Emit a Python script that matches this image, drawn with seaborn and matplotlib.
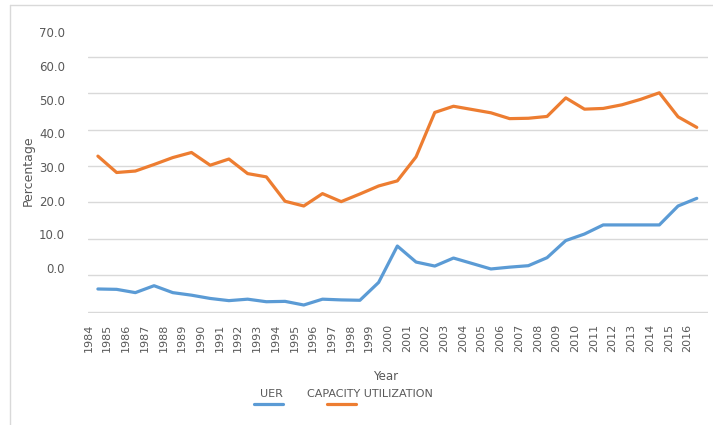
import pandas as pd
import matplotlib.pyplot as plt
import seaborn as sns
from matplotlib.lines import Line2D

# Data
years = list(range(1984, 2017))
uer = [-3.8, -3.9, -4.8, -2.9, -4.8, -5.5, -6.4, -7.0, -6.6, -7.3, -7.2,
       -8.2, -6.6, -6.8, -6.9, -2.0, 8.0, 3.6, 2.5, 4.7, 3.2, 1.7, 2.2,
       2.6, 4.8, 9.5, 11.3, 13.8, 13.8, 13.8, 13.8, 19.0, 21.1]
capacity = [32.7, 28.2, 28.6, 30.4, 32.3, 33.7, 30.2, 31.9, 27.9, 27.0, 20.3,
            19.0, 22.4, 20.2, 22.3, 24.5, 25.9, 32.5, 44.7, 46.4, 45.5, 44.6,
            43.0, 43.1, 43.6, 48.7, 45.6, 45.8, 46.8, 48.3, 50.1, 43.5, 40.6]
y_labels = ["0.0", "10.0", "20.0", "30.0", "40.0", "50.0", "60.0", "70.0"]
series_names = ["UER", "CAPACITY UTILIZATION"]
colors = ["#5B9BD5", "#ED7D31"]

df = pd.DataFrame({
    "idx": list(range(len(years))) * 2,
    "value": uer + capacity,
    "series": [series_names[0]] * len(years) + [series_names[1]] * len(years),
})

sns.set_style("white")
plt.rcParams["font.family"] = ["DejaVu Sans"]

fig = plt.figure(figsize=(7.13, 4.25), dpi=100)
ax = fig.add_axes([0.1234, 0.2635, 0.8696, 0.6715])

sns.lineplot(data=df, x="idx", y="value", hue="series", palette=colors,
             linewidth=2.3, legend=False, ax=ax)

# gridlines (offset from labels, as in the original image)
ax.set_ylim(-10.4, 68)
ax.set_yticks(range(-10, 61, 10), minor=True)
ax.grid(True, which="minor", axis="y", color="#D9D9D9", linewidth=1)
ax.set_yticks([1.9 + 9.27 * k for k in range(len(y_labels))])
ax.set_yticklabels(y_labels)
ax.tick_params(axis="y", which="both", length=0, pad=16.5, labelsize=8.5,
               labelcolor="#595959")

ax.set_xlim(-0.53, 32.6)
ax.set_xticks([i - 0.5 for i in range(len(years))])
ax.set_xticklabels([str(y) for y in years], rotation=90)
ax.tick_params(axis="x", length=0, pad=8, labelsize=8, labelcolor="#595959")

for s in ax.spines.values():
    s.set_visible(False)

ax.set_xlabel("")
ax.set_ylabel("Percentage", fontsize=9, color="#595959", labelpad=3)

fig.text(386 / 713, 1 - 377 / 425, "Year", fontsize=8.5, color="#595959",
         ha="center", va="center")

# legend: labels with line keys below them
leg_text_x = [271, 370]
leg_line_x = [(254, 283), (327, 356)]
for name, c, tx, (x0, x1) in zip(series_names, colors, leg_text_x, leg_line_x):
    fig.text(tx / 713, 1 - 394 / 425, name, fontsize=8, color="#595959",
             ha="center", va="center")
    fig.add_artist(Line2D([x0 / 713, x1 / 713], [1 - 404 / 425] * 2,
                          color=c, linewidth=2.3, transform=fig.transFigure))

# chart frame: only top and left edges show in the crop
fig.add_artist(Line2D([10 / 713, 1], [1 - 5 / 425] * 2, color="#D9D9D9",
                      linewidth=1, transform=fig.transFigure))
fig.add_artist(Line2D([10 / 713] * 2, [0, 1 - 5 / 425], color="#D9D9D9",
                      linewidth=1, transform=fig.transFigure))

fig.savefig("out.png", dpi=100)
